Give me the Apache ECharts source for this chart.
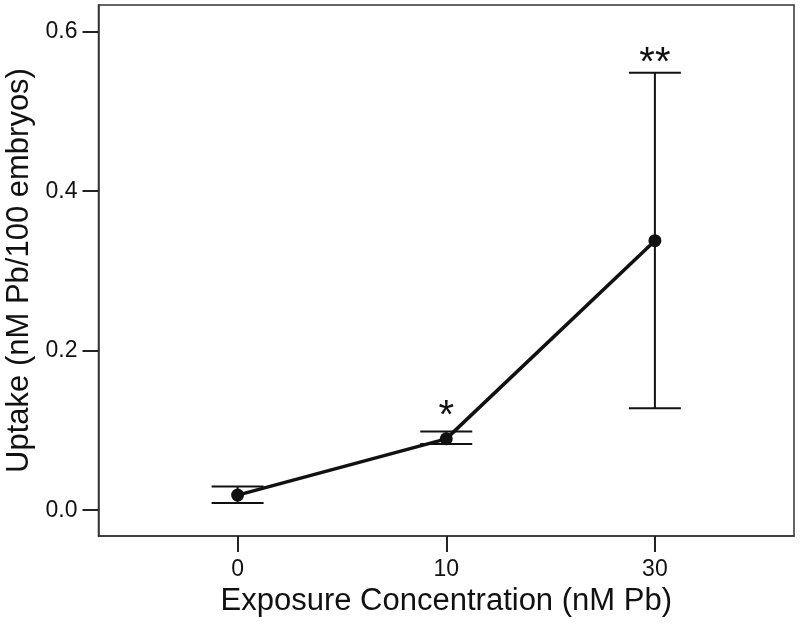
<!DOCTYPE html>
<html><head><meta charset="utf-8">
<script src="https://cdn.jsdelivr.net/npm/echarts@6/dist/echarts.min.js"></script>
<style>html,body{margin:0;padding:0;background:#fff}#c{width:800px;height:630px}</style>
</head><body><div id="c"></div>
<script>
const categories = ['0', '10', '30'];
const meanUptake = [0.019, 0.0895, 0.338];
const errLow = [0.0092, 0.0829, 0.128];
const errHigh = [0.0297, 0.0987, 0.5486];
const significance = ['', '*', '**'];
const yTicks = [0, 0.2, 0.4, 0.6];

const xIdx = categories.map((c, i) => i);
const starOffset = [0, 15, 9];
const font = '"Liberation Sans", Arial, sans-serif';

const chart = echarts.init(document.getElementById('c'), null, {renderer: 'canvas'});
chart.setOption({
  animation: false,
  backgroundColor: '#fff',
  grid: {left: 98.5, right: 6, top: 5, bottom: 94, outerBoundsMode: 'none', containLabel: false,
    show: true, borderColor: '#333', borderWidth: 1.5, backgroundColor: 'transparent'},
  xAxis: {
    type: 'value', min: -2/3, max: 8/3,
    name: 'Exposure Concentration (nM Pb)', nameLocation: 'middle', nameGap: 45,
    nameTextStyle: {fontFamily: font, fontSize: 31, color: '#111'},
    axisLine: {show: true, onZero: false, lineStyle: {color: '#333', width: 1.5}},
    axisTick: {show: true, length: 16, customValues: xIdx, lineStyle: {color: '#222', width: 2}},
    axisLabel: {customValues: xIdx, margin: 22, fontFamily: font, fontSize: 23, color: '#111',
      formatter: v => categories[Math.round(v)] ?? ''},
    splitLine: {show: false}
  },
  yAxis: {
    type: 'value', min: -0.0323, max: 0.6335,
    name: 'Uptake (nM Pb/100 embryos)', nameLocation: 'middle', nameGap: 64, nameRotate: 90,
    nameTextStyle: {fontFamily: font, fontSize: 31, color: '#111'},
    axisLine: {show: true, onZero: false, lineStyle: {color: '#333', width: 1.5}},
    axisTick: {show: true, length: 16, customValues: yTicks, lineStyle: {color: '#222', width: 2}},
    axisLabel: {customValues: yTicks, margin: 21, fontFamily: font, fontSize: 23, color: '#111',
      formatter: v => v.toFixed(1)},
    splitLine: {show: false}
  },
  series: [
    {
      type: 'custom',
      z: 2,
      data: xIdx.map(i => [i, errLow[i], errHigh[i], significance[i]]),
      renderItem: function (params, api) {
        const i = api.value(0);
        const lo = api.coord([i, api.value(1)]);
        const hi = api.coord([i, api.value(2)]);
        const hw = 26;
        const st = {stroke: '#111', lineWidth: 2};
        const children = [
          {type: 'line', shape: {x1: lo[0], y1: lo[1], x2: hi[0], y2: hi[1]}, style: st},
          {type: 'line', shape: {x1: lo[0] - hw, y1: lo[1], x2: lo[0] + hw, y2: lo[1]}, style: st},
          {type: 'line', shape: {x1: hi[0] - hw, y1: hi[1], x2: hi[0] + hw, y2: hi[1]}, style: st}
        ];
        const s = significance[params.dataIndex];
        if (s) {
          children.push({type: 'text', x: hi[0], y: hi[1] - starOffset[params.dataIndex],
            style: {text: s, font: '40px ' + font, fill: '#111', align: 'center', verticalAlign: 'middle'}});
        }
        return {type: 'group', children};
      }
    },
    {
      type: 'line',
      z: 3,
      data: xIdx.map(i => [i, meanUptake[i]]),
      symbol: 'circle', symbolSize: 13,
      itemStyle: {color: '#111'},
      lineStyle: {color: '#111', width: 3.5}
    }
  ]
});
</script></body></html>
